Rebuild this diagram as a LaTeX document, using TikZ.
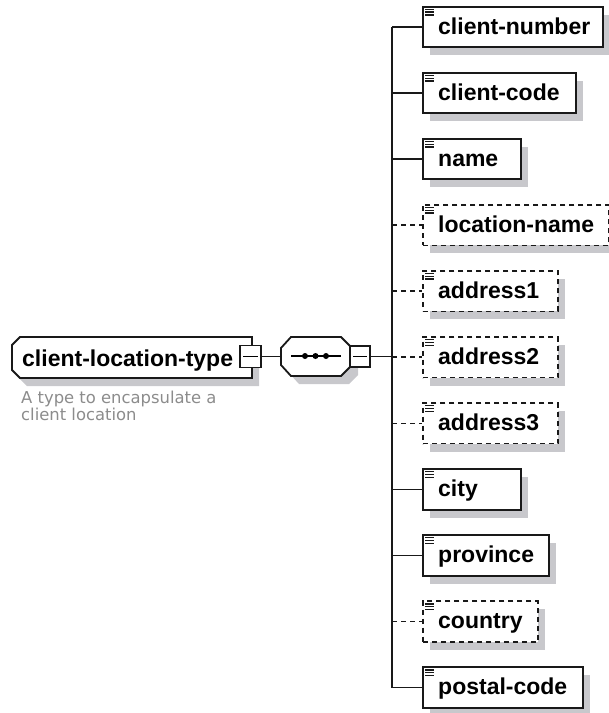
\documentclass[tikz,border=0pt]{standalone}
\usepackage{fontspec}
\usetikzlibrary{shadows,calc}
\newfontfamily\labfont{Liberation Sans}
\newfontfamily\descfont{DejaVu Sans}
\definecolor{shadowc}{RGB}{200,200,204}
\definecolor{descc}{RGB}{140,140,140}
\tikzset{
  conn/.style={line width=1.6pt, draw=black!90},
  req/.style={},
  opt/.style={dash pattern=on 5pt off 4pt},
  elembox/.style={draw=black!90, line width=1.8pt, fill=white, rectangle,
    minimum height=40.5pt, inner sep=0pt, anchor=west,
    drop shadow={shadow xshift=7pt, shadow yshift=-8pt, fill=shadowc, opacity=1}},
  elemlabel/.style={anchor=base west, inner sep=0pt, font=\labfont\bfseries\fontsize{23}{27}\selectfont},
  icon/.style={line width=1.4pt, draw=black!90},
  minusbox/.style={draw=black!90, line width=1.6pt, fill=white, rectangle, inner sep=0pt},
  desclabel/.style={anchor=base west, inner sep=0pt, text=descc, font=\descfont\fontsize{16.4}{18}\selectfont},
}
\begin{document}
\begin{tikzpicture}[x=1pt,y=-1pt]
\useasboundingbox (0,0) rectangle (609,713);

% root element (chamfered left side)
\fill[shadowc] (27,345) -- (259,345) -- (259,386) -- (27,386) -- (19,378) -- (19,353) -- cycle;
\draw[line width=1.8pt, fill=white, draw=black!90] (20,337) -- (252,337) -- (252,378) -- (20,378) -- (12,370) -- (12,345) -- cycle;
\node[elemlabel] (roottext) at (22,366.5) {client-location-type};
\node[minusbox, minimum width=21pt, minimum height=22pt] (rootbox) at (250.5,356.5) {};
\draw[line width=1.5pt] ([xshift=4pt]rootbox.west) -- ([xshift=-4pt]rootbox.east);

% description
\node[desclabel] (desc1) at (21,403.3) {A type to encapsulate a};
\node[desclabel] (desc2) at (21,420.3) {client location};

% sequence compositor
\fill[shadowc] (299,345) -- (349,345) -- (358,354) -- (358,375) -- (349,384) -- (299,384) -- (289,373) -- (289,356) -- cycle;
\draw[line width=1.8pt, fill=white, draw=black!90] (291,337) -- (341,337) -- (350,346) -- (350,367) -- (341,376) -- (291,376) -- (281,365) -- (281,348) -- cycle;
\coordinate (seqwest) at (281,356.5);
\draw[line width=1.5pt] (291,356) -- (341,356);
\foreach \dx in {305,315.5,326} \fill (\dx,356) circle (3pt);
\node[minusbox, minimum width=20pt, minimum height=21pt] (seqbox) at (360,356.5) {};
\draw[line width=1.5pt] ([xshift=4pt]seqbox.west) -- ([xshift=-4pt]seqbox.east);

\coordinate (spine) at (392,356.5);

% child elements
\foreach \i/\lab/\w/\st in {1/client-number/180/req, 2/client-code/153/req, 3/name/98/req, 4/location-name/186/opt, 5/address1/135/opt, 6/address2/135/opt, 7/address3/135/opt, 8/city/98/req, 9/province/126/req, 10/country/115/opt, 11/postal-code/160/req}{
  \pgfmathsetmacro{\cy}{27+66.05*(\i-1)}
  \node[elembox, \st, minimum width=\w pt] (e\i) at (422,\cy) {};
  \node[elemlabel] (t\i) at (438,\cy+7) {\lab};
  \draw[icon] ([shift={(3,3.5)}]e\i.north west) -- ++(9,0);
  \draw[icon] ([shift={(3,6.3)}]e\i.north west) -- ++(9,0);
  \draw[icon] ([shift={(3,9.1)}]e\i.north west) -- ++(9,0);
  \draw[conn, \st] (spine |- e\i.west) -- (e\i.west);
}

% connectors
\draw[conn] (rootbox.east) -- (seqwest);
\draw[conn] (seqbox.east) -- (spine);
\draw[line width=1.8pt, draw=black!90] (spine |- e1.west) -- (spine |- e11.west);
\end{tikzpicture}
\end{document}
